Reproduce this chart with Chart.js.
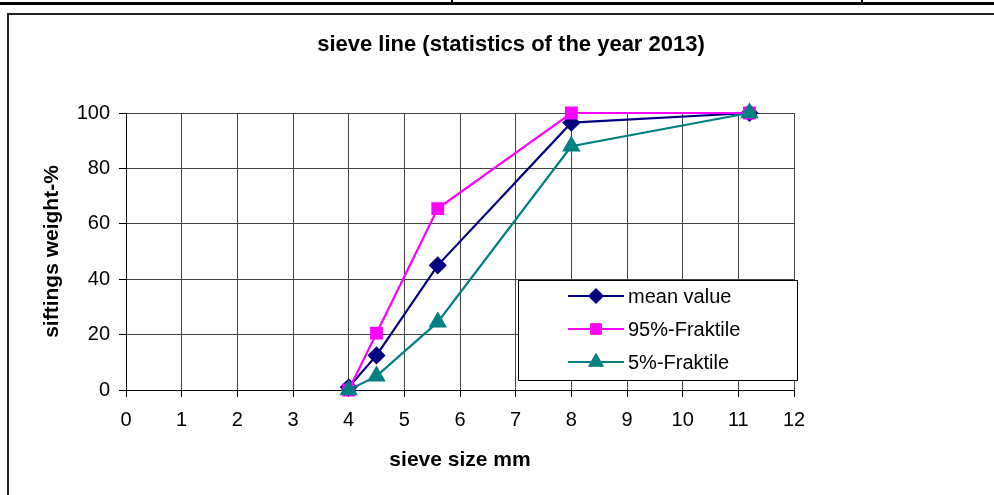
<!DOCTYPE html>
<html>
<head>
<meta charset="utf-8">
<script src="https://cdn.jsdelivr.net/npm/chart.js"></script>
<style>
    body { margin: 0; background: #fff; }
    canvas { display: block; }
</style>
</head>
<body>
<canvas id="sieveChart" width="994" height="495"></canvas>
<script>
    // sieve sizes (mm) and passing percentages
    var sieveSizes = [4, 4.5, 5.6, 8, 11.2];
    var meanValue = [1, 12.5, 45, 96.5, 100];
    var fraktile95 = [0, 20.5, 65.5, 100, 100];
    var fraktile5 = [0, 5, 24.5, 88, 100];
    var xTicks = [0, 1, 2, 3, 4, 5, 6, 7, 8, 9, 10, 11, 12];
    var yTicks = [0, 20, 40, 60, 80, 100];
    var seriesNames = ['mean value', '95%-Fraktile', '5%-Fraktile'];

    function toPoints(ys) {
        return sieveSizes.map(function (x, i) { return { x: x, y: ys[i] }; });
    }

    var FONT = '"Liberation Sans", Arial, sans-serif';

    // frame, title and the boxed legend inside the plot
    var decoration = {
        id: 'decoration',
        beforeDraw: function (chart) {
            var c = chart.ctx;
            c.save();
            c.fillStyle = '#fff';
            c.fillRect(0, 0, chart.width, chart.height);
            c.fillStyle = '#000';
            c.fillRect(0, 2, chart.width, 3);
            c.fillRect(451, 0, 2, 3);
            c.fillRect(861, 0, 2, 3);
            c.strokeStyle = '#222';
            c.lineWidth = 2;
            c.beginPath();
            c.moveTo(8, chart.height + 2);
            c.lineTo(8, 14);
            c.lineTo(chart.width + 2, 14);
            c.stroke();
            c.restore();
        },
        afterDraw: function (chart) {
            var c = chart.ctx;
            c.save();
            c.fillStyle = '#000';
            c.font = 'bold 22px ' + FONT;
            c.textAlign = 'center';
            c.textBaseline = 'middle';
            c.fillText('sieve line (statistics of the year 2013)', 511, 45);

            // legend box
            c.fillStyle = '#fff';
            c.fillRect(518, 280, 279, 100);
            c.strokeStyle = '#000';
            c.lineWidth = 1;
            c.strokeRect(518.5, 280.5, 279, 100);
            c.font = '20px ' + FONT;
            c.textAlign = 'left';
            [0, 1, 2].forEach(function (r) {
                var ds = chart.data.datasets[r];
                var y = 296 + r * 33;
                c.strokeStyle = ds.borderColor;
                c.lineWidth = 2;
                c.beginPath();
                c.moveTo(568, y);
                c.lineTo(624, y);
                c.stroke();
                c.fillStyle = ds.borderColor;
                c.lineWidth = 1;
                Chart.helpers.drawPoint(c, {
                    pointStyle: ds.pointStyle,
                    radius: ds.pointRadius,
                    borderWidth: 1,
                    rotation: 0
                }, 596, y);
                c.fillStyle = '#000';
                c.fillText(seriesNames[r], 628, y + 1);
            });
            c.restore();
        }
    };

    var ctx = document.getElementById('sieveChart').getContext('2d');
    var datasetStyles = [
        { color: '#000080', style: 'rectRot', radius: 7.5, order: 2 },
        { color: '#FF00FF', style: 'rect', radius: 7.5, order: 1 },
        { color: '#008080', style: 'triangle', radius: 8.5, order: 0 }
    ];
    var seriesData = [meanValue, fraktile95, fraktile5];

    var chart = new Chart(ctx, {
        type: 'line',
        data: {
            datasets: seriesData.map(function (ys, i) {
                var s = datasetStyles[i];
                return {
                    label: seriesNames[i],
                    data: toPoints(ys),
                    borderColor: s.color,
                    backgroundColor: s.color,
                    pointBackgroundColor: s.color,
                    pointBorderColor: s.color,
                    pointStyle: s.style,
                    pointRadius: s.radius,
                    pointHoverRadius: s.radius,
                    borderWidth: 2.2,
                    tension: 0,
                    clip: false,
                    order: s.order
                };
            })
        },
        options: {
            responsive: false,
            animation: false,
            events: [],
            layout: {
                padding: { top: 113, right: 200, left: 0, bottom: 22 }
            },
            plugins: {
                legend: { display: false },
                title: { display: false },
                tooltip: { enabled: false }
            },
            scales: {
                x: {
                    type: 'linear',
                    min: 0,
                    max: 12,
                    afterBuildTicks: function (axis) {
                        axis.ticks = xTicks.map(function (v) { return { value: v }; });
                    },
                    grid: { color: '#444', lineWidth: 1, tickLength: 7, tickColor: '#000' },
                    border: { color: '#000', width: 1 },
                    ticks: { color: '#000', font: { family: FONT, size: 20 }, padding: 11, maxRotation: 0 },
                    title: {
                        display: true,
                        text: 'sieve size mm',
                        color: '#000',
                        font: { family: FONT, size: 21, weight: 'bold' },
                        padding: { top: 12, bottom: 0 }
                    },
                    afterFit: function (axis) { axis.height = 83; }
                },
                y: {
                    type: 'linear',
                    min: 0,
                    max: 100,
                    afterBuildTicks: function (axis) {
                        axis.ticks = yTicks.map(function (v) { return { value: v }; });
                    },
                    grid: { color: '#444', lineWidth: 1, tickLength: 7, tickColor: '#000' },
                    border: { color: '#000', width: 1 },
                    ticks: { color: '#000', font: { family: FONT, size: 20 }, padding: 9 },
                    title: {
                        display: true,
                        text: 'siftings weight-%',
                        color: '#000',
                        font: { family: FONT, size: 21, weight: 'bold' },
                        padding: { top: 40, bottom: 0 }
                    },
                    afterFit: function (axis) { axis.width = 126; }
                }
            }
        },
        plugins: [decoration]
    });
</script>
</body>
</html>
